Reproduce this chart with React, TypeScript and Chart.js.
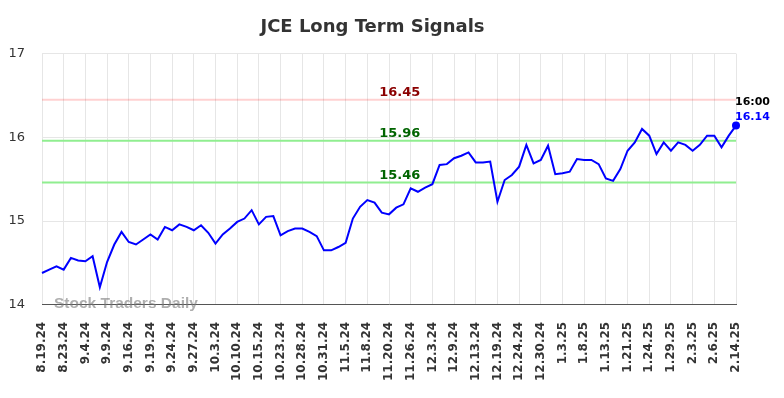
import React, { useEffect, useRef } from "react";
import { Chart, registerables } from "chart.js";

Chart.register(...registerables);

const chartTitle = "JCE Long Term Signals";

const tickLabels = [
  "8.19.24", "8.23.24", "9.4.24", "9.9.24", "9.16.24", "9.19.24", "9.24.24", "9.27.24",
  "10.3.24", "10.10.24", "10.15.24", "10.23.24", "10.28.24", "10.31.24", "11.5.24", "11.8.24",
  "11.20.24", "11.26.24", "12.3.24", "12.9.24", "12.13.24", "12.19.24", "12.24.24", "12.30.24",
  "1.3.25", "1.8.25", "1.13.25", "1.21.25", "1.24.25", "1.29.25", "2.3.25", "2.6.25", "2.14.25",
];

const POINTS_PER_TICK = 3;

const prices = [
  14.38, 14.42, 14.46, 14.42, 14.56, 14.53, 14.52, 14.58, 14.21, 14.51,
  14.72, 14.87, 14.75, 14.72, 14.78, 14.84, 14.78, 14.93, 14.89, 14.96,
  14.93, 14.89, 14.95, 14.86, 14.73, 14.84, 14.91, 14.99, 15.03, 15.13,
  14.96, 15.05, 15.06, 14.83, 14.88, 14.91, 14.91, 14.87, 14.82, 14.65,
  14.65, 14.69, 14.74, 15.03, 15.17, 15.25, 15.22, 15.10, 15.08, 15.16,
  15.20, 15.39, 15.35, 15.40, 15.44, 15.67, 15.68, 15.75, 15.78, 15.82,
  15.70, 15.70, 15.71, 15.23, 15.49, 15.55, 15.65, 15.91, 15.69, 15.73,
  15.90, 15.56, 15.57, 15.59, 15.74, 15.73, 15.73, 15.68, 15.51, 15.48,
  15.62, 15.84, 15.94, 16.10, 16.02, 15.80, 15.94, 15.84, 15.94, 15.91,
  15.84, 15.91, 16.02, 16.02, 15.88, 16.02, 16.14,
];

const signalLevels = [16.45, 15.96, 15.46];
const signalLineColors = ["rgba(255,0,0,0.18)", "#90ee90", "#90ee90"];
const signalTextColors = ["#8b0000", "#006400", "#006400"];

const yTicks = [14, 15, 16, 17];
const lastTime = "16:00";
const watermark = "Stock Traders Daily";

export default function App() {
  const ref = useRef<HTMLCanvasElement>(null);

  useEffect(() => {
    document.body.style.margin = "0";
    const canvas = ref.current;
    if (!canvas) return;
    const data = prices.map((y, i) => ({ x: i, y }));
    const lastIndex = prices.length - 1;

    const signalPlugin = {
      id: "signalPlugin",
      beforeDatasetsDraw(chart: any) {
        const { ctx, chartArea, scales } = chart;
        ctx.save();
        signalLevels.forEach((lvl, i) => {
          const y = scales.y.getPixelForValue(lvl);
          ctx.strokeStyle = signalLineColors[i];
          ctx.lineWidth = 2;
          ctx.beginPath();
          ctx.moveTo(chartArea.left, y);
          ctx.lineTo(chartArea.right, y);
          ctx.stroke();
        });
        ctx.restore();
      },
      afterDraw(chart: any) {
        const { ctx, chartArea, scales } = chart;
        ctx.save();
        const cx = scales.x.getPixelForValue(49.5);
        ctx.textAlign = "center";
        ctx.textBaseline = "middle";
        ctx.font = "bold 13px 'DejaVu Sans'";
        signalLevels.forEach((lvl, i) => {
          const y = scales.y.getPixelForValue(lvl);
          ctx.fillStyle = signalTextColors[i];
          ctx.fillText(lvl.toFixed(2), cx, y - 7);
        });
        const lx = scales.x.getPixelForValue(lastIndex);
        const ly = scales.y.getPixelForValue(prices[lastIndex]);
        ctx.textAlign = "left";
        ctx.font = "bold 11px 'DejaVu Sans'";
        ctx.fillStyle = "#000";
        ctx.fillText(lastTime, lx - 1, ly - 23);
        ctx.fillStyle = "#0000ff";
        ctx.fillText(prices[lastIndex].toFixed(2), lx - 1, ly - 8);
        ctx.font = "bold 15.5px 'Liberation Sans'";
        ctx.fillStyle = "rgba(120,120,120,0.6)";
        ctx.textAlign = "left";
        ctx.textBaseline = "middle";
        ctx.fillText(watermark, chartArea.left + 12, chartArea.bottom - 1);
        ctx.restore();
      },
    };

    const chart = new Chart(canvas, {
      type: "line",
      data: {
        datasets: [
          {
            data,
            borderColor: "#0000ff",
            backgroundColor: "#0000ff",
            borderWidth: 2,
            tension: 0,
            clip: false,
            pointRadius: (c: any) => (c.dataIndex === lastIndex ? 4 : 0),
            pointHoverRadius: 0,
            pointBackgroundColor: "#0000ff",
            pointBorderWidth: 0,
          },
        ],
      },
      options: {
        animation: false,
        responsive: true,
        maintainAspectRatio: false,
        layout: { padding: { left: 9, right: 48, top: 0, bottom: 0 } },
        plugins: {
          legend: { display: false },
          tooltip: { enabled: false },
          title: {
            display: true,
            text: chartTitle,
            color: "#333",
            font: { family: "'DejaVu Sans'", size: 18, weight: "bold" },
            padding: { top: 17, bottom: 15 },
          },
        },
        scales: {
          x: {
            type: "linear",
            min: 0,
            max: lastIndex,
            grid: { color: "#e6e6e6", drawTicks: false },
            border: { color: "#555", width: 1 },
            ticks: {
              stepSize: POINTS_PER_TICK,
              autoSkip: false,
              maxRotation: 90,
              minRotation: 90,
              padding: 17,
              color: "#333",
              font: { family: "'DejaVu Sans'", size: 12, weight: "bold" },
              callback: (v: any) => tickLabels[Math.round(Number(v) / POINTS_PER_TICK)] ?? "",
            },
          },
          y: {
            min: yTicks[0],
            max: yTicks[yTicks.length - 1],
            grid: { color: "#e6e6e6", drawTicks: false },
            border: { display: false },
            afterFit: (scale: any) => {
              scale.width = 33;
            },
            ticks: {
              stepSize: 1,
              padding: 17,
              color: "#333",
              font: { family: "'DejaVu Sans'", size: 13 },
            },
          },
        },
      },
      plugins: [signalPlugin],
    });
    return () => chart.destroy();
  }, []);

  return (
    <div style={{ width: 784, height: 398, position: "relative" }}>
      <canvas ref={ref} />
    </div>
  );
}
